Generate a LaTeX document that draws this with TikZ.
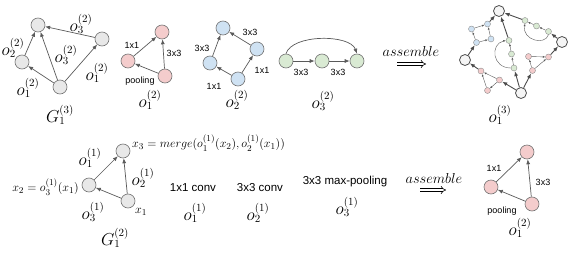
\documentclass[tikz,border=0pt]{standalone}
\usepackage{fontspec}
\setsansfont{Liberation Sans}
\usetikzlibrary{arrows.meta}
\definecolor{gfill}{HTML}{E8E8E8}
\definecolor{rfill}{HTML}{F4CCCC}
\definecolor{bfill}{HTML}{CFE2F3}
\definecolor{nfill}{HTML}{D9EAD3}
\definecolor{edgec}{HTML}{5A5A5A}
\begin{document}
\begin{tikzpicture}[x=1pt,y=-1pt,
  nd/.style={circle,draw=black!55,line width=0.6pt,minimum size=14pt,inner sep=0pt},
  gn/.style={nd,fill=gfill},
  rn/.style={nd,fill=rfill},
  bn/.style={nd,fill=bfill},
  nn/.style={nd,fill=nfill},
  big/.style={circle,draw=black!70,line width=0.8pt,minimum size=11pt,inner sep=0pt,fill=gray!8},
  sm/.style={circle,draw=black!45,line width=0.4pt,minimum size=6pt,inner sep=0pt},
  arr/.style={draw=edgec,line width=0.7pt,-{Latex[length=5pt,width=4pt]}},
  sarr/.style={draw=edgec,line width=0.4pt,-{Latex[length=2.5pt,width=2pt]}},
  tarr/.style={draw=black!70,line width=0.9pt,-{Latex[length=5pt,width=4pt]}},
  implarrow/.style={draw=black,double,double distance=2.2pt,line width=0.55pt,-{Implies}},
  lab/.style={font=\fontsize{16}{18}\selectfont,inner sep=0pt},
  sf/.style={font=\sffamily\fontsize{9}{11}\selectfont,inner sep=0pt},
  sfb/.style={font=\sffamily\fontsize{11.5}{13}\selectfont,inner sep=0pt},
  sml/.style={font=\fontsize{12.5}{14}\selectfont,inner sep=0pt},
  asm/.style={font=\fontsize{15}{17}\selectfont,inner sep=0pt}]
\useasboundingbox (0,0) rectangle (576,252);

% ---- G1^(3)
\node[gn] (a1) at (38,25) {};
\node[gn] (a2) at (102,39) {};
\node[gn] (a3) at (22,62) {};
\node[gn] (a4) at (60,87) {};
\draw[arr] (a4) -- (a3);
\draw[arr] (a3) -- (a1);
\draw[arr] (a4) -- (a1);
\draw[arr] (a4) -- (a2);
\draw[arr] (a2) -- (a1);
\node[lab] (la1) at (13,48) {$o_2^{(2)}$};
\node[lab] (la2) at (81,24) {$o_3^{(2)}$};
\node[lab] (la3) at (66,55) {$o_3^{(2)}$};
\node[lab] (la4) at (97,73) {$o_1^{(2)}$};
\node[lab] (la5) at (28,88) {$o_1^{(2)}$};
\node[lab] (la6) at (60,115) {$G_1^{(3)}$};

% ---- red cell
\node[rn] (r1) at (162,32) {};
\node[rn] (r2) at (128,61) {};
\node[rn] (r3) at (165,76) {};
\draw[arr] (r2) -- (r1);
\draw[arr] (r3) -- (r1);
\draw[arr] (r3) -- (r2);
\node[sf] (lr1) at (132,45) {1x1};
\node[sf] (lr2) at (174,53) {3x3};
\node[sf] (lr3) at (140,81) {pooling};
\node[lab] (lr4) at (150,100) {$o_1^{(2)}$};

% ---- blue cell
\node[bn] (b1) at (223,28) {};
\node[bn] (b2) at (257,49) {};
\node[bn] (b3) at (210,63) {};
\node[bn] (b4) at (238,79) {};
\draw[arr] (b4) -- (b3);
\draw[arr] (b3) -- (b1);
\draw[arr] (b2) -- (b1);
\draw[arr] (b4) -- (b2);
\node[sf] (lb1) at (250,32) {3x3};
\node[sf] (lb2) at (262,70) {1x1};
\node[sf] (lb3) at (202,48) {3x3};
\node[sf] (lb4) at (214,86) {1x1};
\node[lab] (lb5) at (237,100) {$o_2^{(2)}$};

% ---- green cell
\node[nn] (n1) at (286,61) {};
\node[nn] (n2) at (322,61) {};
\node[nn] (n3) at (357,61) {};
\draw[arr] (n1) -- (n2);
\draw[arr] (n2) -- (n3);
\draw[arr] (n1.north) .. controls (292,34) and (350,34) .. (n3.north);
\node[sf] (ln1) at (301,72) {3x3};
\node[sf] (ln2) at (338,72) {3x3};
\node[lab] (ln3) at (323,101) {$o_3^{(2)}$};

% ---- assemble (top)
\node[asm] (as1) at (411,51) {$assemble$};
\coordinate (ia1) at (397,64);
\coordinate (ib1) at (426,64);
\draw[implarrow] (ia1) -- (ib1);

% ---- assembled o1^(3)
\node[big] (T) at (499,11) {};
\node[big] (R) at (562,42) {};
\node[big] (L) at (465,60) {};
\node[big] (B) at (521,93) {};
% blue
\node[sm,fill=bfill] (bi) at (476.5,42.5) {};
\node[sm,fill=bfill] (bl) at (471.5,29) {};
\node[sm,fill=bfill] (br) at (491,39) {};
\node[sm,fill=bfill] (bo) at (487.5,24) {};
\draw[tarr] (L) -- (bi);
\draw[sarr] (bi) -- (bl);
\draw[sarr] (bi) -- (br);
\draw[sarr] (bl) -- (bo);
\draw[sarr] (br) -- (bo);
\draw[tarr] (bo) -- (T);
% green 1
\node[sm,fill=nfill] (gi) at (514,68) {};
\node[sm,fill=nfill] (gm) at (511.5,54) {};
\node[sm,fill=nfill] (go) at (509,40.5) {};
\draw[tarr] (B) -- (gi);
\draw[sarr] (gi) -- (gm);
\draw[sarr] (gm) -- (go);
\draw[sarr] (gi.west) .. controls (492,68) and (490,44) .. (go.west);
\draw[tarr] (go) -- (T);
% green 2
\node[sm,fill=nfill] (hi) at (548.5,31.5) {};
\node[sm,fill=nfill] (hm) at (536.5,26) {};
\node[sm,fill=nfill] (ho) at (525,20.5) {};
\draw[tarr] (R) -- (hi);
\draw[sarr] (hi) -- (hm);
\draw[sarr] (hm) -- (ho);
\draw[sarr] (hi.south) .. controls (545,46) and (522,40) .. (ho.south);
\draw[tarr] (ho) -- (T);
% red 1
\node[sm,fill=rfill] (ri) at (499.5,80) {};
\node[sm,fill=rfill] (ra) at (487.5,90.5) {};
\node[sm,fill=rfill] (ro) at (481,71) {};
\draw[tarr] (B) -- (ri);
\draw[sarr] (ri) -- (ro);
\draw[sarr] (ri) -- (ra);
\draw[sarr] (ra) -- (ro);
\draw[tarr] (ro) -- (L);
% red 2
\node[sm,fill=rfill] (si) at (532.5,70.5) {};
\node[sm,fill=rfill] (sa) at (528.5,56.5) {};
\node[sm,fill=rfill] (so) at (548.5,57) {};
\draw[tarr] (B) -- (si);
\draw[sarr] (si) -- (sa);
\draw[sarr] (si) -- (so);
\draw[sarr] (sa) -- (so);
\draw[tarr] (so) -- (R);
\node[lab] (lo3) at (500,115) {$o_1^{(3)}$};

% ---- bottom row: G1^(2)
\node[gn] (c1) at (123,151) {};
\node[gn] (c2) at (89,185) {};
\node[gn] (c3) at (128,201) {};
\draw[arr] (c2) -- (c1);
\draw[arr] (c3) -- (c1);
\draw[arr] (c3) -- (c2);
\node[sml,anchor=west] (x3) at (132,143) {$x_3=merge(o_1^{(1)}(x_2),o_2^{(1)}(x_1))$};
\node[sml,anchor=east] (x2) at (79,187) {$x_2=o_3^{(1)}(x_1)$};
\node[lab] (lc1) at (90,158) {$o_1^{(1)}$};
\node[lab] (lc2) at (143,178) {$o_2^{(1)}$};
\node[lab] (lc3) at (93,212) {$o_3^{(1)}$};
\node[sml] (lc4) at (141,212) {$x_1$};
\node[lab] (lc5) at (115,238) {$G_1^{(2)}$};

\node[sfb] (t1) at (193,188) {1x1 conv};
\node[lab] (t1o) at (195,213) {$o_1^{(1)}$};
\node[sfb] (t2) at (260,188) {3x3 conv};
\node[lab] (t2o) at (258,213) {$o_2^{(1)}$};
\node[sfb] (t3) at (345,182) {3x3 max-pooling};
\node[lab] (t3o) at (347,207) {$o_3^{(1)}$};

\node[asm] (as2) at (434,178) {$assemble$};
\coordinate (ia2) at (420,190);
\coordinate (ib2) at (446,190);
\draw[implarrow] (ia2) -- (ib2);

% ---- bottom red cell
\node[rn] (d1) at (527,152) {};
\node[rn] (d2) at (491,187) {};
\node[rn] (d3) at (532,204) {};
\draw[arr] (d2) -- (d1);
\draw[arr] (d3) -- (d1);
\draw[arr] (d3) -- (d2);
\node[sf] (ld1) at (494,168) {1x1};
\node[sf] (ld2) at (543,182) {3x3};
\node[sf] (ld3) at (502,211) {pooling};
\node[lab] (ld4) at (520,228) {$o_1^{(2)}$};
\end{tikzpicture}
\end{document}
